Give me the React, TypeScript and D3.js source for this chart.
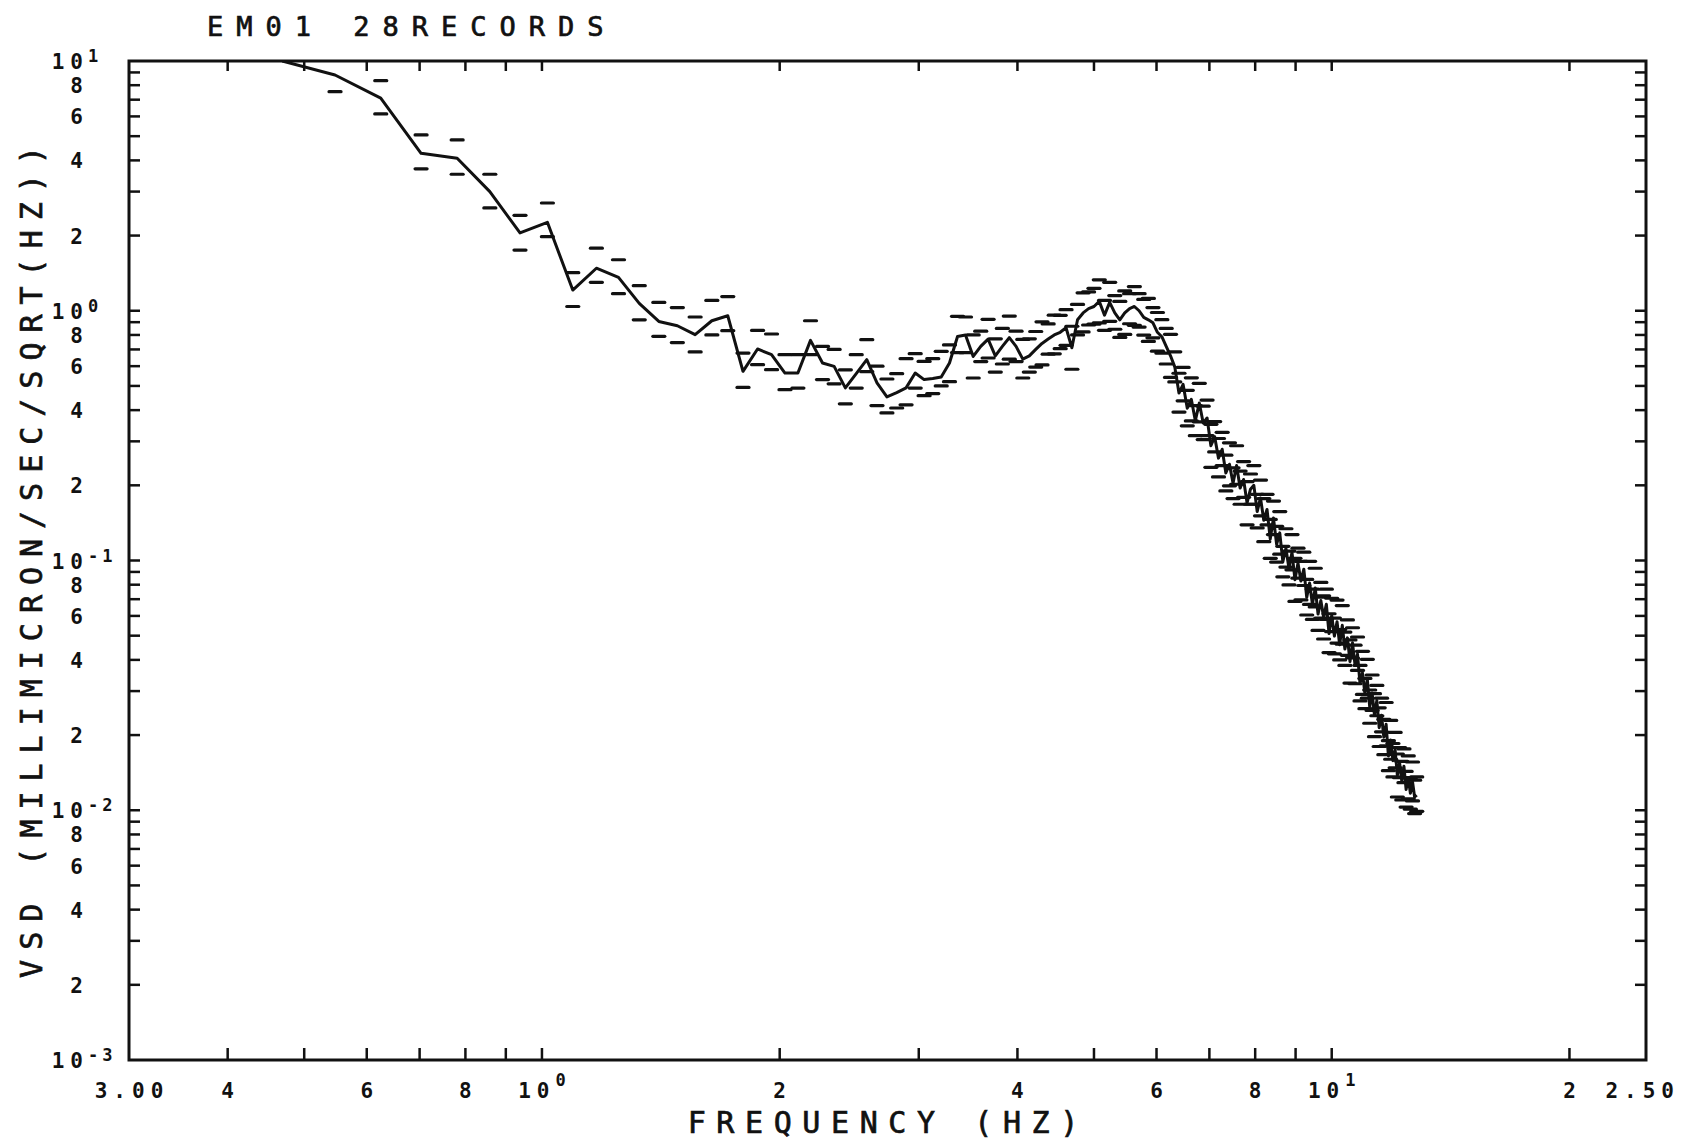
import React from 'react';
import * as d3 from 'd3';

// plot frame in page pixels
const W = 1684;
const H = 1141;
const frame = { left: 129, right: 1646, top: 61, bottom: 1060 };

// frequency (Hz) of each spectral estimate
const freqs = [
  0.469, 0.547, 0.625, 0.703, 0.781, 0.859, 0.938, 1.016, 1.094, 1.172,
  1.25, 1.328, 1.406, 1.484, 1.563, 1.641, 1.719, 1.797, 1.875, 1.953,
  2.031, 2.109, 2.188, 2.266, 2.344, 2.422, 2.5, 2.578, 2.656, 2.734,
  2.813, 2.891, 2.969, 3.047, 3.125, 3.203, 3.281, 3.359, 3.438, 3.516,
  3.594, 3.672, 3.75, 3.828, 3.906, 3.984, 4.063, 4.141, 4.219, 4.297,
  4.375, 4.453, 4.531, 4.609, 4.688, 4.766, 4.844, 4.922, 5.0, 5.078,
  5.156, 5.234, 5.313, 5.391, 5.469, 5.547, 5.625, 5.703, 5.781, 5.859,
  5.938, 6.016, 6.094, 6.172, 6.25, 6.328, 6.406, 6.484, 6.563, 6.641,
  6.719, 6.797, 6.875, 6.953, 7.031, 7.109, 7.188, 7.266, 7.344, 7.422,
  7.5, 7.578, 7.656, 7.734, 7.813, 7.891, 7.969, 8.047, 8.125, 8.203,
  8.281, 8.359, 8.438, 8.516, 8.594, 8.672, 8.75, 8.828, 8.906, 8.984,
  9.063, 9.141, 9.219, 9.297, 9.375, 9.453, 9.531, 9.609, 9.688, 9.766,
  9.844, 9.922, 10.0, 10.078, 10.156, 10.234, 10.313, 10.391, 10.469, 10.547,
  10.625, 10.703, 10.781, 10.859, 10.938, 11.016, 11.094, 11.172, 11.25, 11.328,
  11.406, 11.484, 11.563, 11.641, 11.719, 11.797, 11.875, 11.953, 12.031, 12.109,
  12.188, 12.266, 12.344, 12.422, 12.5, 12.578, 12.656, 12.734, 12.813,
];

// mean VSD (solid line)
const vsdMean = [
  10.0, 8.79, 7.10, 4.27, 4.08, 3.00, 2.05, 2.26, 1.21, 1.48,
  1.36, 1.07, 0.906, 0.871, 0.802, 0.912, 0.955, 0.572, 0.703, 0.667,
  0.563, 0.563, 0.761, 0.618, 0.599, 0.491, 0.560, 0.637, 0.514, 0.452,
  0.470, 0.491, 0.563, 0.530, 0.535, 0.543, 0.618, 0.789, 0.800, 0.656,
  0.720, 0.770, 0.660, 0.720, 0.780, 0.720, 0.640, 0.660, 0.700, 0.740,
  0.770, 0.800, 0.820, 0.855, 0.711, 0.920, 0.980, 1.020, 1.040, 1.090,
  0.960, 1.080, 0.980, 0.920, 0.980, 1.020, 1.040, 1.000, 0.940, 0.920,
  0.895, 0.820, 0.787, 0.720, 0.660, 0.596, 0.468, 0.507, 0.407, 0.442,
  0.363, 0.427, 0.355, 0.372, 0.288, 0.313, 0.257, 0.279, 0.224, 0.243,
  0.204, 0.240, 0.195, 0.211, 0.170, 0.193, 0.200, 0.157, 0.178, 0.145,
  0.160, 0.122, 0.148, 0.116, 0.129, 0.0989, 0.112, 0.0928, 0.108, 0.0837,
  0.0977, 0.0827, 0.0923, 0.0712, 0.0813, 0.0668, 0.0776, 0.0610, 0.0692, 0.0592,
  0.0668, 0.0510, 0.0603, 0.0498, 0.0569, 0.0460, 0.0550, 0.0442, 0.0490, 0.0394,
  0.0468, 0.0382, 0.0422, 0.0322, 0.0355, 0.0293, 0.0335, 0.0259, 0.0295, 0.0240,
  0.0275, 0.0214, 0.0240, 0.0196, 0.0221, 0.0165, 0.0191, 0.0158, 0.0174, 0.0138,
  0.0155, 0.0131, 0.0150, 0.0121, 0.0135, 0.0117, 0.0130, 0.0113, 0.0115,
];

// upper bar (dash above)
const vsdUpper = [
  null, 10.3, 8.34, 5.06, 4.83, 3.52, 2.41, 2.70, 1.42, 1.78,
  1.60, 1.26, 1.08, 1.03, 0.944, 1.10, 1.14, 0.677, 0.834, 0.807,
  0.667, 0.667, 0.912, 0.720, 0.700, 0.580, 0.667, 0.766, 0.600, 0.533,
  0.560, 0.643, 0.673, 0.627, 0.643, 0.688, 0.730, 0.950, 0.944, 0.800,
  0.828, 0.924, 0.772, 0.850, 0.952, 0.828, 0.768, 0.772, 0.826, 0.903,
  0.886, 0.960, 0.959, 1.01, 0.867, 1.06, 1.18, 1.19, 1.23, 1.33,
  1.10, 1.30, 1.15, 1.09, 1.20, 1.17, 1.25, 1.17, 1.11, 1.12,
  1.03, 0.984, 0.921, 0.850, 0.805, 0.685, 0.562, 0.593, 0.480, 0.539,
  0.417, 0.512, 0.415, 0.439, 0.351, 0.360, 0.308, 0.326, 0.264, 0.296,
  0.235, 0.288, 0.228, 0.249, 0.207, 0.222, 0.240, 0.184, 0.210, 0.177,
  0.184, 0.146, 0.173, 0.137, 0.157, 0.114, 0.134, 0.109, 0.127, 0.102,
  0.112, 0.0992, 0.108, 0.0840, 0.0992, 0.0768, 0.0931, 0.0714, 0.0817, 0.0722,
  0.0768, 0.0612, 0.0706, 0.0588, 0.0694, 0.0529, 0.0660, 0.0517, 0.0578, 0.0481,
  0.0538, 0.0458, 0.0494, 0.0380, 0.0433, 0.0337, 0.0402, 0.0303, 0.0348, 0.0293,
  0.0316, 0.0257, 0.0281, 0.0231, 0.0270, 0.0190, 0.0229, 0.0185, 0.0205, 0.0168,
  0.0178, 0.0157, 0.0176, 0.0143, 0.0165, 0.0135, 0.0156, 0.0132, 0.0136,
];

// lower bar (dash below)
const vsdLower = [
  null, 7.54, 6.14, 3.70, 3.52, 2.58, 1.75, 1.98, 1.04, 1.30,
  1.17, 0.92, 0.79, 0.746, 0.684, 0.80, 0.832, 0.493, 0.608, 0.581,
  0.483, 0.490, 0.667, 0.530, 0.510, 0.424, 0.490, 0.570, 0.417, 0.390,
  0.408, 0.420, 0.490, 0.457, 0.466, 0.500, 0.520, 0.680, 0.680, 0.538,
  0.626, 0.647, 0.568, 0.612, 0.640, 0.626, 0.538, 0.568, 0.595, 0.607,
  0.670, 0.672, 0.705, 0.727, 0.583, 0.800, 0.823, 0.877, 0.884, 0.894,
  0.835, 0.907, 0.843, 0.782, 0.804, 0.887, 0.874, 0.860, 0.799, 0.754,
  0.779, 0.689, 0.677, 0.612, 0.541, 0.519, 0.393, 0.436, 0.346, 0.362,
  0.316, 0.359, 0.305, 0.316, 0.236, 0.272, 0.216, 0.240, 0.190, 0.199,
  0.177, 0.202, 0.168, 0.179, 0.139, 0.168, 0.168, 0.135, 0.151, 0.119,
  0.139, 0.102, 0.127, 0.0986, 0.106, 0.0860, 0.0941, 0.0798, 0.0918, 0.0686,
  0.0850, 0.0695, 0.0794, 0.0605, 0.0667, 0.0581, 0.0652, 0.0525, 0.0588, 0.0485,
  0.0581, 0.0428, 0.0519, 0.0423, 0.0467, 0.0400, 0.0462, 0.0380, 0.0417, 0.0323,
  0.0407, 0.0321, 0.0363, 0.0274, 0.0291, 0.0255, 0.0281, 0.0223, 0.0251, 0.0197,
  0.0239, 0.0180, 0.0206, 0.0167, 0.0181, 0.0144, 0.0160, 0.0136, 0.0148, 0.0113,
  0.0135, 0.0110, 0.0129, 0.0103, 0.0111, 0.0101, 0.0109, 0.0097, 0.0099,
];

const xTickValues = [0.4, 0.5, 0.6, 0.7, 0.8, 0.9, 1, 2, 3, 4, 5, 6, 7, 8, 9, 10, 20];
const xTickLabels = [
  { v: 0.3, text: '3.00', exp: '' },
  { v: 0.4, text: '4', exp: '' },
  { v: 0.6, text: '6', exp: '' },
  { v: 0.8, text: '8', exp: '' },
  { v: 1, text: '10', exp: '0' },
  { v: 2, text: '2', exp: '' },
  { v: 4, text: '4', exp: '' },
  { v: 6, text: '6', exp: '' },
  { v: 8, text: '8', exp: '' },
  { v: 10, text: '10', exp: '1' },
  { v: 20, text: '2', exp: '' },
];
const yDecades = [1, 0, -1, -2, -3];
const yMantissas = [8, 6, 4, 2];

const MONO = '"DejaVu Sans Mono", "Liberation Mono", monospace';
const LS = 6; // letter spacing of tick labels

export default function App() {
  const x = d3.scaleLog().domain([0.3, 25]).range([frame.left, frame.right]);
  const y = d3.scaleLog().domain([0.001, 10]).range([frame.bottom, frame.top]);

  const pts = freqs.map((f, i) => ({ f, v: vsdMean[i] }));
  const line = d3.line<{ f: number; v: number }>().x(d => x(d.f)).y(d => y(d.v));

  const yTicks = y.ticks().filter(t => t > 0.00101 && t < 9.99);

  const dashes: { f: number; v: number }[] = [];
  freqs.forEach((f, i) => {
    if (vsdUpper[i] != null) dashes.push({ f, v: vsdUpper[i] as number });
    if (vsdLower[i] != null) dashes.push({ f, v: vsdLower[i] as number });
  });

  const tickFont = { fontFamily: MONO, fontWeight: 700, fontSize: 21 };
  const heavy = { stroke: '#111', strokeWidth: 0.7 };

  return (
    <svg width={W} height={H} style={{ position: 'absolute', left: 0, top: 0, background: '#fff' }}>
      <defs>
        <clipPath id="plot-area">
          <rect x={frame.left} y={frame.top} width={frame.right - frame.left} height={frame.bottom - frame.top} />
        </clipPath>
      </defs>

      {/* title */}
      <text x={207} y={36} fontFamily={MONO} fontSize={27} letterSpacing={13} fill="#111" {...heavy}>
        EM01 28RECORDS
      </text>

      {/* frame */}
      <rect x={frame.left} y={frame.top} width={frame.right - frame.left} height={frame.bottom - frame.top}
        fill="none" stroke="#111" strokeWidth={3} />

      {/* ticks on all four sides, pointing in */}
      <g stroke="#111" strokeWidth={2.5}>
        {xTickValues.map(t => (
          <g key={'xt' + t}>
            <line x1={x(t)} x2={x(t)} y1={frame.bottom} y2={frame.bottom - 12} />
            <line x1={x(t)} x2={x(t)} y1={frame.top} y2={frame.top + 10} />
          </g>
        ))}
        {yTicks.map(t => (
          <g key={'yt' + t}>
            <line x1={frame.left} x2={frame.left + 11} y1={y(t)} y2={y(t)} />
            <line x1={frame.right} x2={frame.right - 11} y1={y(t)} y2={y(t)} />
          </g>
        ))}
      </g>

      {/* x tick labels */}
      <g fill="#111" {...tickFont}>
        {xTickLabels.map(d => (
          <text key={'xl' + d.v} x={x(d.v) + LS / 2} y={1098} textAnchor="middle" letterSpacing={LS}>
            {d.text}
            {d.exp && (
              <tspan dy={-12} fontSize={17}>{d.exp}</tspan>
            )}
          </text>
        ))}
        <text x={1674 + LS} y={1098} textAnchor="end" letterSpacing={LS}>2.50</text>
      </g>

      {/* y tick labels */}
      <g fill="#111" {...tickFont}>
        {yDecades.map(e => (
          <g key={'yd' + e}>
            <text x={83 + LS} y={y(Math.pow(10, e)) + 8} textAnchor="end" letterSpacing={LS}>10</text>
            <text x={88} y={y(Math.pow(10, e)) + 1} fontSize={17} letterSpacing={4}>
              {e < 0 ? '-' + Math.abs(e) : String(e)}
            </text>
          </g>
        ))}
        {yDecades.slice(0, 4).map(e =>
          yMantissas.map(m => (
            <text key={'ym' + e + m} x={83} y={y(m * Math.pow(10, e - 1)) + 8} textAnchor="end">{m}</text>
          ))
        )}
      </g>

      {/* data */}
      <g clipPath="url(#plot-area)">
        <g stroke="#111" strokeWidth={3.2} strokeLinecap="round">
          {dashes.map((d, i) => (
            <line key={'d' + i} x1={x(d.f) - 6} x2={x(d.f) + 6} y1={y(d.v)} y2={y(d.v)} />
          ))}
        </g>
        <path d={line(pts) || ''} fill="none" stroke="#111" strokeWidth={3} strokeLinejoin="round" />
      </g>

      {/* axis titles */}
      <text x={883 + 5.3} y={1133} textAnchor="middle" fontFamily={MONO} fontSize={30} letterSpacing={10.6}
        fill="#111" {...heavy}>
        FREQUENCY (HZ)
      </text>
      <text transform="translate(42,562) rotate(-90)" dx={5} textAnchor="middle" fontFamily={MONO} fontSize={30}
        letterSpacing={10} fill="#111" {...heavy}>
        VSD (MILLIMICRON/SEC/SQRT(HZ))
      </text>
    </svg>
  );
}
